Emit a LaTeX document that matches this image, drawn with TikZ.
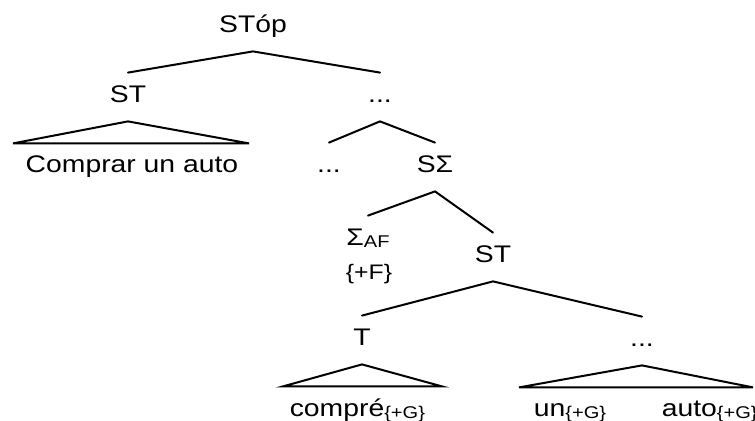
\documentclass[tikz,border=0pt]{standalone}
\usepackage{fontspec}
\setmainfont{Liberation Sans}
\newcommand{\feat}[1]{\raisebox{-1pt}{\fontsize{8.5}{9}\selectfont#1}}
\tikzset{phrase/.style={anchor=base,font=\fontsize{12}{17}\selectfont,xscale=1.18,inner xsep=1pt,inner ysep=6.5pt,text height=8.5pt,text depth=2.5pt},branch/.style={line width=1pt,line cap=round},roof/.style={line width=1pt,line join=miter}}

\begin{document}
\begin{tikzpicture}[x=0.5pt,y=-0.5pt]
\useasboundingbox (0,0) rectangle (755,421);
\node[phrase] (top) at (253,33) {STóp};
\node[phrase] (st) at (128,103) {ST};
\node[phrase] (dotsa) at (380,103) {...};
\node[phrase] (cmp) at (132,173) {Comprar un auto};
\node[phrase] (dotsb) at (329,173) {...};
\node[phrase] (ssig) at (435,173) {SΣ};
\node[phrase] (sig) at (368,246) {Σ\feat{AF}};
\node[phrase,font=\fontsize{10.5}{12}\selectfont] (plusf) at (369,280) {\{+F\}};
\node[phrase] (stb) at (493,263) {ST};
\node[phrase] (t) at (362,346) {T};
\node[phrase] (dotsc) at (642,347) {...};
\node[phrase,anchor=base west] (compre) at (287,417) {compré\feat{\{+G\}}};
\node[phrase,anchor=base west] (un) at (531,417) {un\feat{\{+G\}}};
\node[phrase,anchor=base west] (auto) at (659,417) {auto\feat{\{+G\}}};
% branches
\draw[branch] (st.north) -- (top.south) -- (dotsa.north);
\draw[branch] (dotsb.north) -- (dotsa.south) -- (ssig.north);
\draw[branch] (sig.north) -- (ssig.south) -- (stb.north);
\draw[branch] (t.north) -- (stb.south) -- (dotsc.north);
% roofs
\draw[roof] (st.south) -- ++(-115,22) -- ++(236,0) -- cycle;
\draw[roof] (t.south) -- ++(-79,22) -- ++(159,0) -- cycle;
\draw[roof] (dotsc.south) -- ++(-123,22) -- ++(234,0) -- cycle;
\end{tikzpicture}
\end{document}
